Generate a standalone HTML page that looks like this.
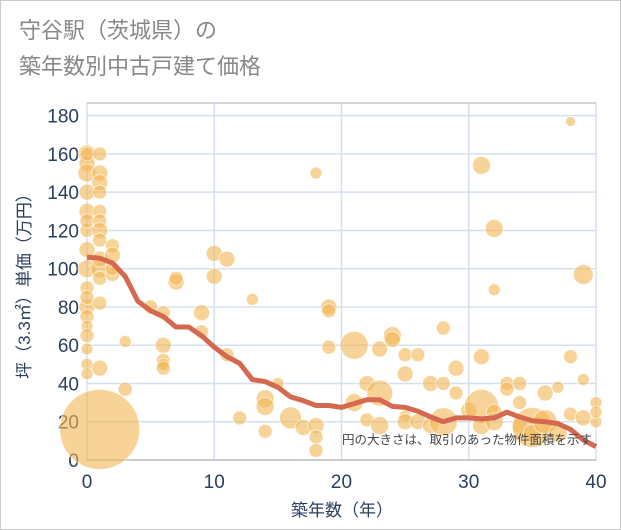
<!DOCTYPE html>
<html><head><meta charset="utf-8"><style>
body{margin:0;background:#fff;font-family:"Liberation Sans","Noto Sans CJK JP",sans-serif;}
#wrap{position:relative;width:619px;height:528px;border:1px solid #ccc;background:#fff;}
.t{position:absolute;left:18px;color:#888;font-size:22px;}
</style></head><body>
<div id="wrap">
<div class="t" style="top:12px">守谷駅（茨城県）の</div>
<div class="t" style="top:48px">築年数別中古戸建て価格</div>
<svg id="c" width="621" height="530" style="position:absolute;left:-1px;top:-1px"></svg>
</div>
<script>
const ages=[0,0,0,0,0,0,0,0,0,0,0,0,0,0,0,0,0,0,0,1,1,1,1,1,1,1,1,1,1,1,1,1,1,2,2,2,2,3,3,5,6,6,6,6,6,7,7,9,9,10,10,11,11,12,13,14,14,14,15,16,17,18,18,18,18,19,19,19,21,21,22,22,23,23,23,24,24,25,25,25,25,26,26,27,27,28,28,28,29,29,30,31,31,31,31,32,32,32,32,33,33,34,34,34,35,35,36,36,37,37,38,38,38,39,39,39,40,40,40];
const prices=[160,155,150,140,130,120,110,100,90,80,75,70,65,58,50,45,160,125,85,160,150,145,140,130,125,120,115,100,95,82,48,16,105,112,107,97,100,62,37,80,77,60,52,50,48,93,95,77,67,108,96,105,55,22,84,32,28,15,40,22,17,150,18,12,5,80,78,59,60,30,40,21,58,35,18,65,63,55,45,23,20,55,20,40,18,69,40,20,48,35,26,154,54,28,18,121,89,25,20,40,37,40,30,18,17,14,35,20,38,14,177,54,24,97,42,22,30,20,25];
const sizes=[9,8,9,8,8,7,8,9,7,8,7,6,7,6,6,6,7,7,7,7,8,8,7,7,7,8,7,9,7,7,8,40,8,7,8,7,7,6,7,7,7,8,7,6,7,8,7,8,7,8,8,8,7,7,6,9,9,7,6,11,8,6,8,7,7,8,7,7,14,9,8,7,8,13,9,9,8,7,8,6,8,7,8,8,8,7,7,14,8,7,8,9,8,17,9,9,6,8,9,7,7,7,7,8,20,9,8,12,6,9,5,7,7,10,6,8,6,6,6];
const trendX=[0,1,2,3,4,5,6,7,8,9,10,11,12,13,14,15,16,17,18,19,20,21,22,23,24,25,26,27,28,29,30,31,32,33,34,35,36,37,38,39,40];
const trendY=[106,105.5,103,96,83,78,75,69.5,69.5,65,59,54,50.5,42,41,38,33,31,28.5,28.5,27.5,29.5,31.5,31.5,28,27.5,25.5,22.5,20,22,22,21.5,22,25,22.5,20.5,20,19,16,10.5,7];
const xTicks=[0,10,20,30,40];
const yTicks=[0,20,40,60,80,100,120,140,160,180];
const L=87,R=596,T=103,B=460;
const xs=v=>L+(R-L)*v/40, ys=v=>B-v*1.913;
const s=document.getElementById('c');const NS='http://www.w3.org/2000/svg';
function mk(tag,at,p){const e=document.createElementNS(NS,tag);for(const k in at)e.setAttribute(k,at[k]);(p||s).appendChild(e);return e;}
const bg=mk('rect',{x:L,y:T,width:R-L,height:B-T,fill:'#fff',stroke:'#aaa'});


yTicks.forEach(v=>{const l=mk('line',{x1:L,x2:R,y1:ys(v),y2:ys(v),stroke:'#d5e0ee','stroke-width':1.5});


const t=mk('text',{x:L-8,y:ys(v)+7,'text-anchor':'end','font-size':19,fill:'#2a3f5f'});t.textContent=v;

});
xTicks.forEach(v=>{const l=mk('line',{x1:xs(v),x2:xs(v),y1:T,y2:B,stroke:'#d5e0ee','stroke-width':1.5});


const t=mk('text',{x:xs(v),y:488,'text-anchor':'middle','font-size':19,fill:'#2a3f5f'});t.textContent=v;

});
mk('line',{x1:L,x2:R,y1:B,y2:B,stroke:'#aaa'});
const g=mk('g',{});
ages.forEach((a,i)=>{const c=mk('circle',{cx:xs(a),cy:ys(prices[i]),r:sizes[i],fill:'#f2b654','fill-opacity':0.6,stroke:'#fff','stroke-opacity':0.6},g);

});
const p=mk('polyline',{points:trendX.map((x,i)=>xs(x)+','+ys(trendY[i])).join(' '),fill:'none',stroke:'#d4694f','stroke-width':5,'stroke-linejoin':'round'});


const n=mk('text',{x:592,y:444,'text-anchor':'end','font-size':12.5,fill:'#444'});n.textContent='円の大きさは、取引のあった物件面積を示す';


const xt=mk('text',{x:342,y:516,'text-anchor':'middle','font-size':17,fill:'#2a3f5f'});xt.textContent='築年数（年）';


const yt=mk('text',{x:0,y:0,'text-anchor':'middle','font-size':17,fill:'#2a3f5f',transform:'translate(30,282) rotate(-90)'});yt.textContent='坪（3.3㎡）単価（万円）';


</script>
</body></html>
